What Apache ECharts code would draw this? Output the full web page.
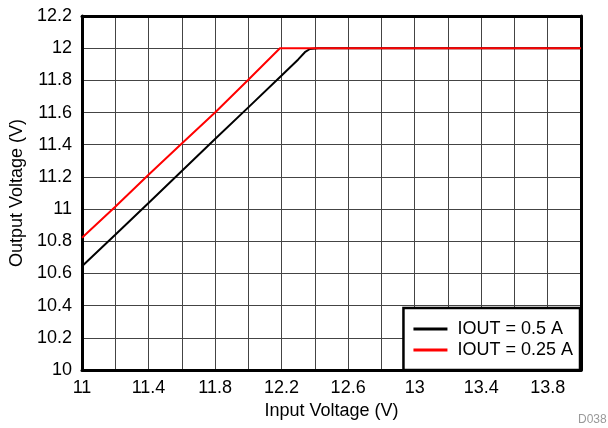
<!DOCTYPE html>
<html>
<head>
<meta charset="utf-8">
<script src="https://cdn.jsdelivr.net/npm/echarts@6/dist/echarts.min.js"></script>
<style>
  html, body { margin: 0; padding: 0; background: #fff; }
  #chart { width: 608px; height: 428px; }
</style>
</head>
<body>
<div id="chart"></div>
<script>
// input voltage (V) / output voltage (V)
const vinHalfAmp = [11, 11.2, 11.4, 11.6, 11.8, 12, 12.2, 12.3, 12.34, 12.37, 12.42, 14]
const voutHalfAmp = [10.645, 10.84, 11.038, 11.237, 11.435, 11.632, 11.83, 11.93, 11.975, 11.995, 12.0, 12.0]
const vinQuarterAmp = [11, 11.2, 11.4, 11.6, 11.8, 12, 12.19, 14]
const voutQuarterAmp = [10.822, 11.014, 11.214, 11.408, 11.6, 11.804, 12.0, 12.0]
const seriesNames = ['IOUT = 0.5 A', 'IOUT = 0.25 A']

const font = 'Liberation Sans, Arial, Helvetica, sans-serif'
const gridColor = '#444'

function pairs (xs, ys) {
  return xs.map((x, i) => [x, ys[i]])
}

const chart = echarts.init(document.getElementById('chart'))

chart.setOption({
  animation: false,
  textStyle: { fontFamily: font },
  grid: {
    left: 82,
    right: 27,
    top: 16,
    bottom: 58,
    containLabel: false
  },
  xAxis: [{
    type: 'value',
    min: 11,
    max: 14,
    interval: 0.2,
    name: 'Input Voltage (V)',
    nameLocation: 'middle',
    nameGap: 31,
    nameTextStyle: { fontSize: 18, color: '#000', fontFamily: font },
    axisLine: { show: true, lineStyle: { color: '#000', width: 3 } },
    axisTick: { show: false },
    axisLabel: {
      fontSize: 18,
      color: '#000',
      fontFamily: font,
      margin: 9,
      // only every second grid line carries a label
      formatter: (v, i) => (i % 2 === 0 ? String(+v.toFixed(1)) : '')
    },
    splitLine: { show: true, lineStyle: { color: gridColor, width: 1 } }
  }, {
    type: 'value',
    position: 'top',
    min: 11,
    max: 14,
    interval: 0.2,
    axisLine: { show: true, onZero: false, lineStyle: { color: '#000', width: 3 } },
    axisTick: { show: false },
    axisLabel: { show: false },
    splitLine: { show: false }
  }],
  yAxis: [{
    type: 'value',
    min: 10,
    max: 12.2,
    interval: 0.2,
    name: 'Output Voltage (V)',
    nameLocation: 'middle',
    nameGap: 56,
    nameTextStyle: { fontSize: 18, color: '#000', fontFamily: font },
    axisLine: { show: true, lineStyle: { color: '#000', width: 3 } },
    axisTick: { show: false },
    axisLabel: {
      fontSize: 18,
      color: '#000',
      fontFamily: font,
      margin: 10,
      formatter: v => String(+v.toFixed(1))
    },
    splitLine: { show: true, lineStyle: { color: gridColor, width: 1 } }
  }, {
    type: 'value',
    position: 'right',
    min: 10,
    max: 12.2,
    interval: 0.2,
    axisLine: { show: true, onZero: false, lineStyle: { color: '#000', width: 3 } },
    axisTick: { show: false },
    axisLabel: { show: false },
    splitLine: { show: false }
  }],
  legend: {
    orient: 'vertical',
    right: 28,
    bottom: 58,
    backgroundColor: '#fff',
    borderColor: '#000',
    borderWidth: 2.5,
    borderRadius: 0,
    padding: [12, 7, 11, 10],
    itemGap: 3,
    itemWidth: 34,
    itemHeight: 3,
    icon: 'rect',
    formatter: name => ' ' + name,
    textStyle: { fontSize: 18, color: '#000', fontFamily: font, lineHeight: 18 },
    data: seriesNames
  },
  graphic: [{
    type: 'text',
    left: 578,
    top: 414,
    style: { text: 'D038', fill: '#999', font: '12px ' + font }
  }],
  series: [{
    name: seriesNames[0],
    type: 'line',
    data: pairs(vinHalfAmp, voutHalfAmp),
    showSymbol: false,
    color: '#000',
    lineStyle: { color: '#000', width: 2 }
  }, {
    name: seriesNames[1],
    type: 'line',
    data: pairs(vinQuarterAmp, voutQuarterAmp),
    showSymbol: false,
    color: '#ff0000',
    lineStyle: { color: '#ff0000', width: 2 }
  }]
})
</script>
</body>
</html>
